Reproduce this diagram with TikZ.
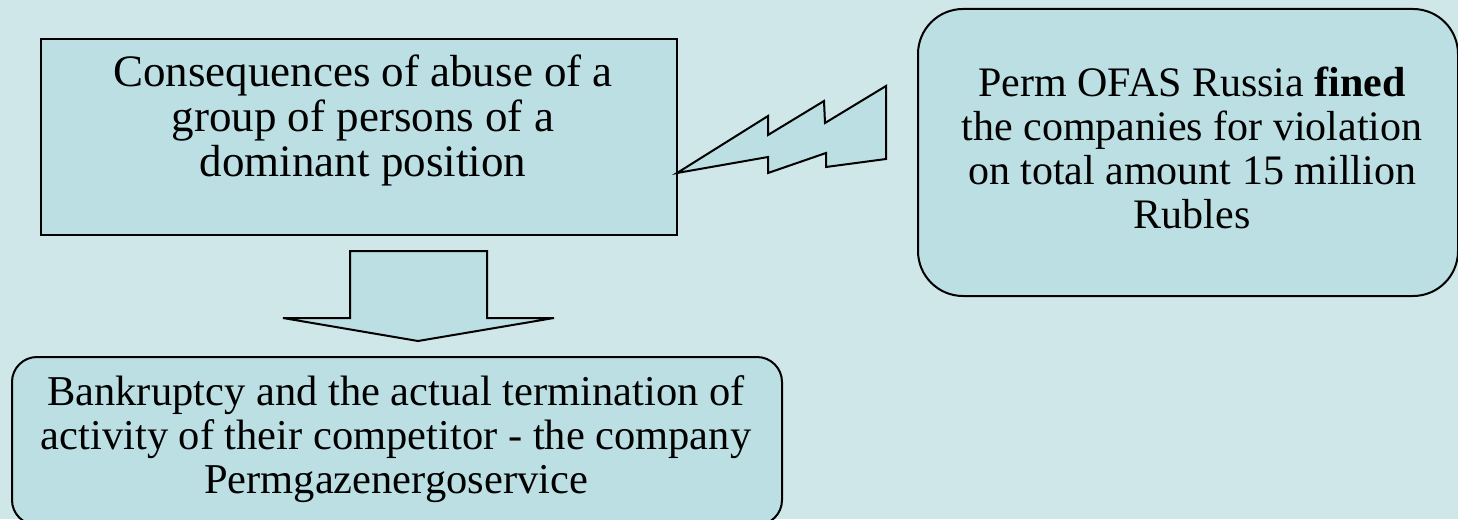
\documentclass[tikz,border=0pt]{standalone}
\usepackage{fontspec}
\setmainfont{Liberation Serif}
\definecolor{bgcol}{HTML}{CFE7E9}
\definecolor{boxfill}{HTML}{BBDFE2}
\begin{document}
\begin{tikzpicture}[x=1pt,y=-1pt, line width=2pt,
  txt/.style={font=\fontsize{42}{44}\selectfont, align=center, inner sep=0pt},
  bigtxt/.style={font=\fontsize{45}{45}\selectfont, align=center, inner sep=0pt},
  midtxt/.style={font=\fontsize{42.5}{44}\selectfont, align=center, inner sep=0pt},
  shp/.style={draw=black, fill=boxfill, line join=miter}]
\useasboundingbox (0,0) rectangle (1458,519);
\clip (0,0) rectangle (1458,519);
\fill[bgcol] (0,0) rectangle (1458,519);
% top rectangle
\node[shp, rectangle, anchor=north west, minimum width=636pt, minimum height=196pt, inner sep=0pt] (cons) at (40,38) {};
\node[bigtxt] (constxt) at (363,120) {Consequences of abuse of a\\group of persons of a\\dominant position};
% right rounded box
\node[shp, rectangle, rounded corners=45pt, anchor=north west, minimum width=540pt, minimum height=287pt, inner sep=0pt] (fine) at (917,8) {};
\node[txt] (finetxt) at (1192,148) {Perm OFAS Russia \textbf{fined}\\the companies for violation\\on total amount 15 million\\Rubles};
% bottom rounded box
\node[shp, rectangle, rounded corners=25pt, anchor=north west, minimum width=770pt, minimum height=168pt, inner sep=0pt] (bank) at (11,356) {};
\node[midtxt] (banktxt) at (396,439) {Bankruptcy and the actual termination of\\activity of their competitor - the company\\Permgazenergoservice};
% lightning
\draw[shp] (677,173) -- (768,116) -- (768,135) -- (824,101) -- (825,123) -- (886,86)
  -- (886,159) -- (826,167) -- (826,153) -- (768,173) -- (768,157) -- cycle;
% block arrow
\draw[shp] (350,251) -- (487,251) -- (487,318) -- (554,318) -- (418,341)
  -- (283,318) -- (350,318) -- cycle;
\end{tikzpicture}
\end{document}
